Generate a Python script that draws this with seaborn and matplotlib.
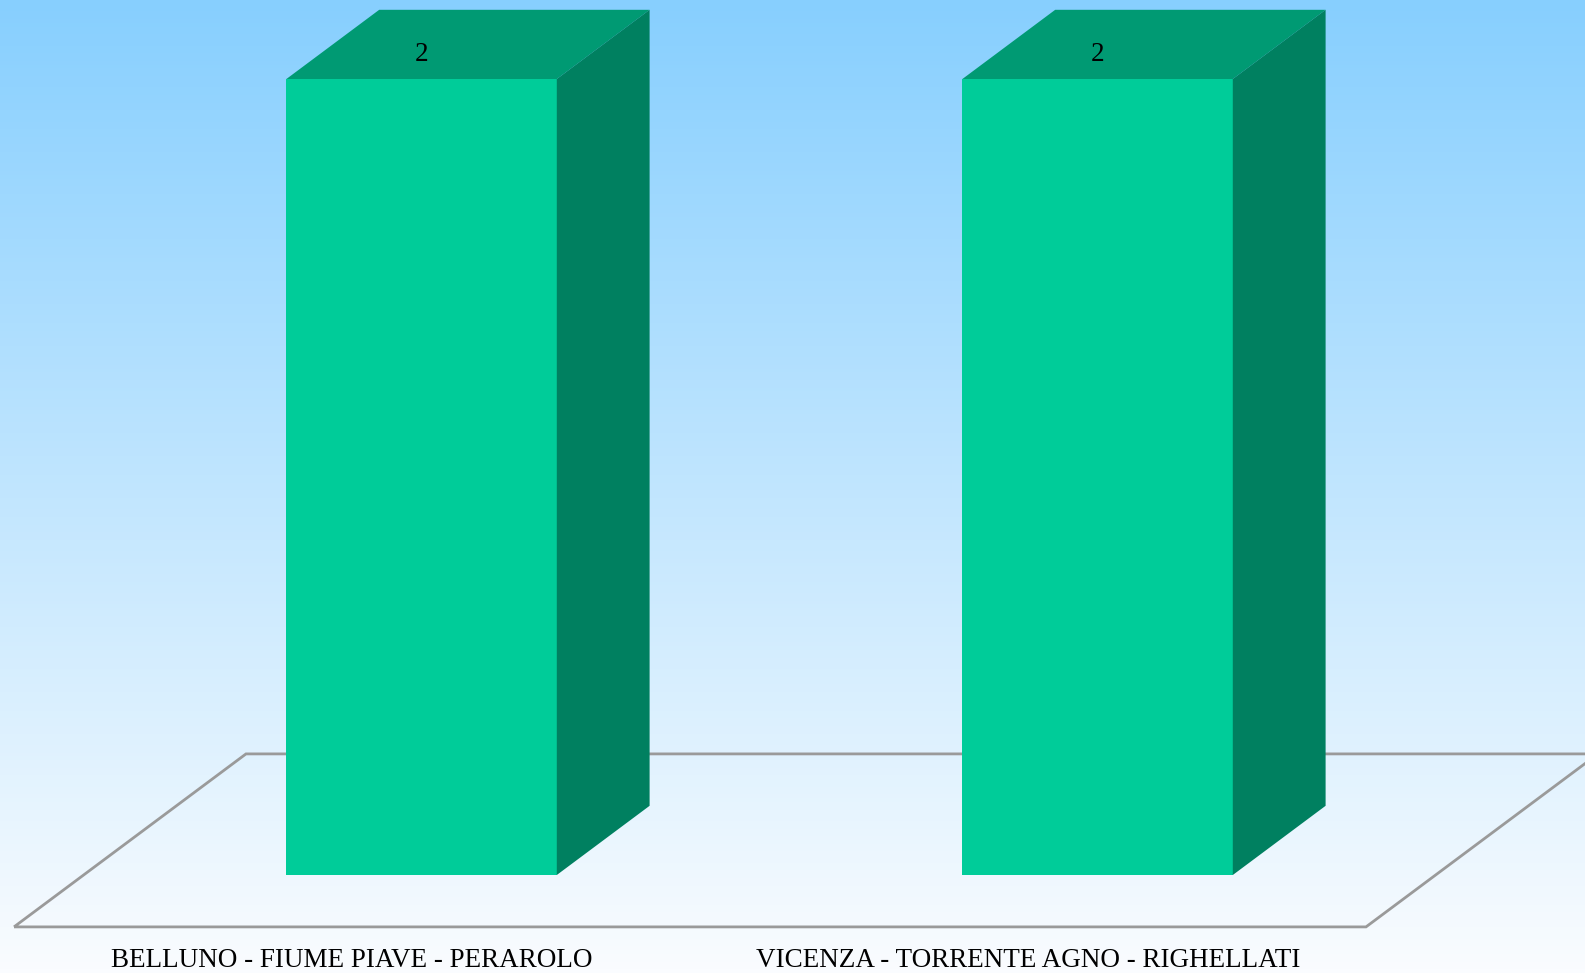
import numpy as np
import matplotlib
matplotlib.use("Agg")
import matplotlib.pyplot as plt
from matplotlib.patches import Polygon
import seaborn as sns
import pandas as pd

categories = ["BELLUNO - FIUME PIAVE - PERAROLO", "VICENZA - TORRENTE AGNO - RIGHELLATI"]
values = [2, 2]
value_labels = ["2", "2"]

front_color = "#00CC99"
top_color = "#009A73"
side_color = "#008060"
floor_edge = "#9A9A9A"

sns.set_theme(style="white")
plt.rcParams['font.family'] = ['Liberation Serif', 'DejaVu Serif']

W, H = 1585, 973
fig = plt.figure(figsize=(W / 100, H / 100), dpi=100)

# background gradient
bg = fig.add_axes([0, 0, 1, 1])
top_rgb = np.array([135, 207, 254]) / 255
bot_rgb = np.array([250, 252, 255]) / 255
t = np.linspace(0, 1, 256)[:, None]
grad = (1 - t) * top_rgb + t * bot_rgb
bg.imshow(grad[:, None, :], aspect="auto", extent=[0, 1, 0, 1], origin="upper")
bg.set_axis_off()

ax = fig.add_axes([0, 0, 1, 1])
ax.patch.set_alpha(0)

df = pd.DataFrame({"cat": categories, "val": values})
sns.barplot(data=df, x="cat", y="val", color=front_color, saturation=1,
            width=0.4, ax=ax, zorder=3, linewidth=0)
bars = list(ax.patches)

# coordinate system: front-face plane of bars
px_per_x = 676.0
px_per_y = 398.0
x0_px = 421.6
y0_px = 875.0
ax.set_xlim(-x0_px / px_per_x, (W - x0_px) / px_per_x)
ax.set_ylim(-(H - y0_px) / px_per_y, y0_px / px_per_y)

# depth vector for full floor depth (data units)
dvx = 232.0 / px_per_x
dvy = 173.0 / px_per_y
bar_depth = 0.4
front_z = 0.3  # bar front offset from floor front

# floor
n = len(categories)
z_front, z_back = -front_z, 1 - front_z
fl = [(-0.5 + z_front * dvx, z_front * dvy),
      (n - 0.5 + z_front * dvx, z_front * dvy),
      (n - 0.5 + z_back * dvx, z_back * dvy),
      (-0.5 + z_back * dvx, z_back * dvy)]
ax.add_patch(Polygon(fl, closed=True, facecolor="none", edgecolor=floor_edge,
                     linewidth=2, zorder=1))

bdx, bdy = bar_depth * dvx, bar_depth * dvy
for p, lab in zip(bars, value_labels):
    x = p.get_x(); w = p.get_width(); h = p.get_height()
    top = [(x, h), (x + w, h), (x + w + bdx, h + bdy), (x + bdx, h + bdy)]
    side = [(x + w, 0), (x + w, h), (x + w + bdx, h + bdy), (x + w + bdx, bdy)]
    ax.add_patch(Polygon(top, closed=True, facecolor=top_color, edgecolor="none", zorder=3))
    ax.add_patch(Polygon(side, closed=True, facecolor=side_color, edgecolor="none", zorder=3))
    ax.text(x + w / 2, h + bdy * 0.36, lab, ha="center", va="center",
            fontsize=19.5, color="black", zorder=5)

for i, c in enumerate(categories):
    ax.text(i + z_front * dvx, z_front * dvy - 34 / px_per_y, c, ha="center", va="center",
            fontsize=19.5, color="black")

ax.set_axis_off()
fig.savefig("out.png", dpi=100)
